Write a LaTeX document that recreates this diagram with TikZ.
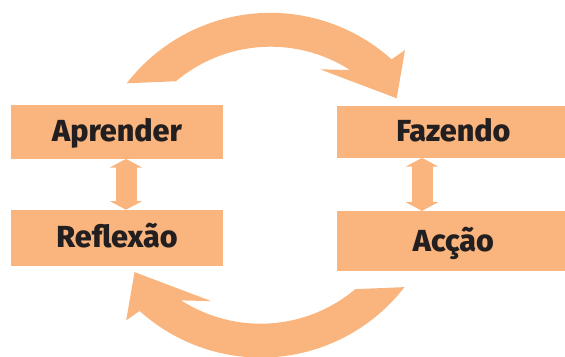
\documentclass[tikz,border=0pt]{standalone}
\usepackage{fontspec}
\IfFontExistsTF{Fira Sans Heavy}
  {\setmainfont{Fira Sans}[BoldFont={Fira Sans Heavy}]}
  {\IfFontExistsTF{Fira Sans ExtraBold}
    {\setmainfont{Fira Sans}[BoldFont={Fira Sans ExtraBold}]}
    {\setmainfont{Fira Sans}[BoldFeatures={FakeBold=1.5}]}}
\newcommand{\boxfont}{\fontsize{26}{30}\selectfont\bfseries}
\usetikzlibrary{positioning}
\usetikzlibrary{arrows.meta}
\definecolor{boxorange}{RGB}{249,181,125}
\definecolor{ink}{RGB}{35,31,32}
\newcommand{\cyclearrow}[1]{\fill[boxorange,#1] (126.7,83.3) arc[start angle=-142.3,end angle=-48,radius=181.4]
  -- (405,50) -- (396.7,98.3) -- (320,69.3) -- (350,70)
  arc[start angle=-57.3,end angle=-130.1,radius=147] -- cycle;}

\begin{document}
\begin{tikzpicture}[x=0.03cm,y=-0.03cm]
      \tikzstyle{box}=[fill=boxorange,text=ink,inner sep=0,text height=0.6cm,text depth=0cm,font=\boxfont]
      \tikzstyle{updown}=[{Triangle[width=0.96cm,length=0.26cm]}-{Triangle[width=0.96cm,length=0.26cm]},
        line width=0.63cm,draw=boxorange]
      \useasboundingbox (0,0) rectangle (565,356);
      % 
      \node [box,minimum width=6.36cm,minimum height=1.61cm] (apr) at (117,131.8) {Aprender};
      \node [box,minimum width=6.36cm,minimum height=1.67cm] (ref) [below of=apr, node distance=3.18cm] {Reflexão};
      \node [box,minimum width=6.96cm,minimum height=1.55cm] (faz) [right of=apr, node distance=10.09cm] {Fazendo};
      \node [box,minimum width=6.96cm,minimum height=1.8cm] (acc) [below of=faz, node distance=3.28cm] {Acção};
      % 
      \draw [updown] ([xshift=0.27cm]apr.south) -- ([xshift=0.27cm]apr.south |- ref.north);
      \draw [updown] ([xshift=-0.94cm]faz.south) -- ([xshift=-0.94cm]faz.south |- acc.north);
      % 
      \cyclearrow{}
      \cyclearrow{rotate around={180:(265.6,185.2)}}
\end{tikzpicture}
\end{document}
